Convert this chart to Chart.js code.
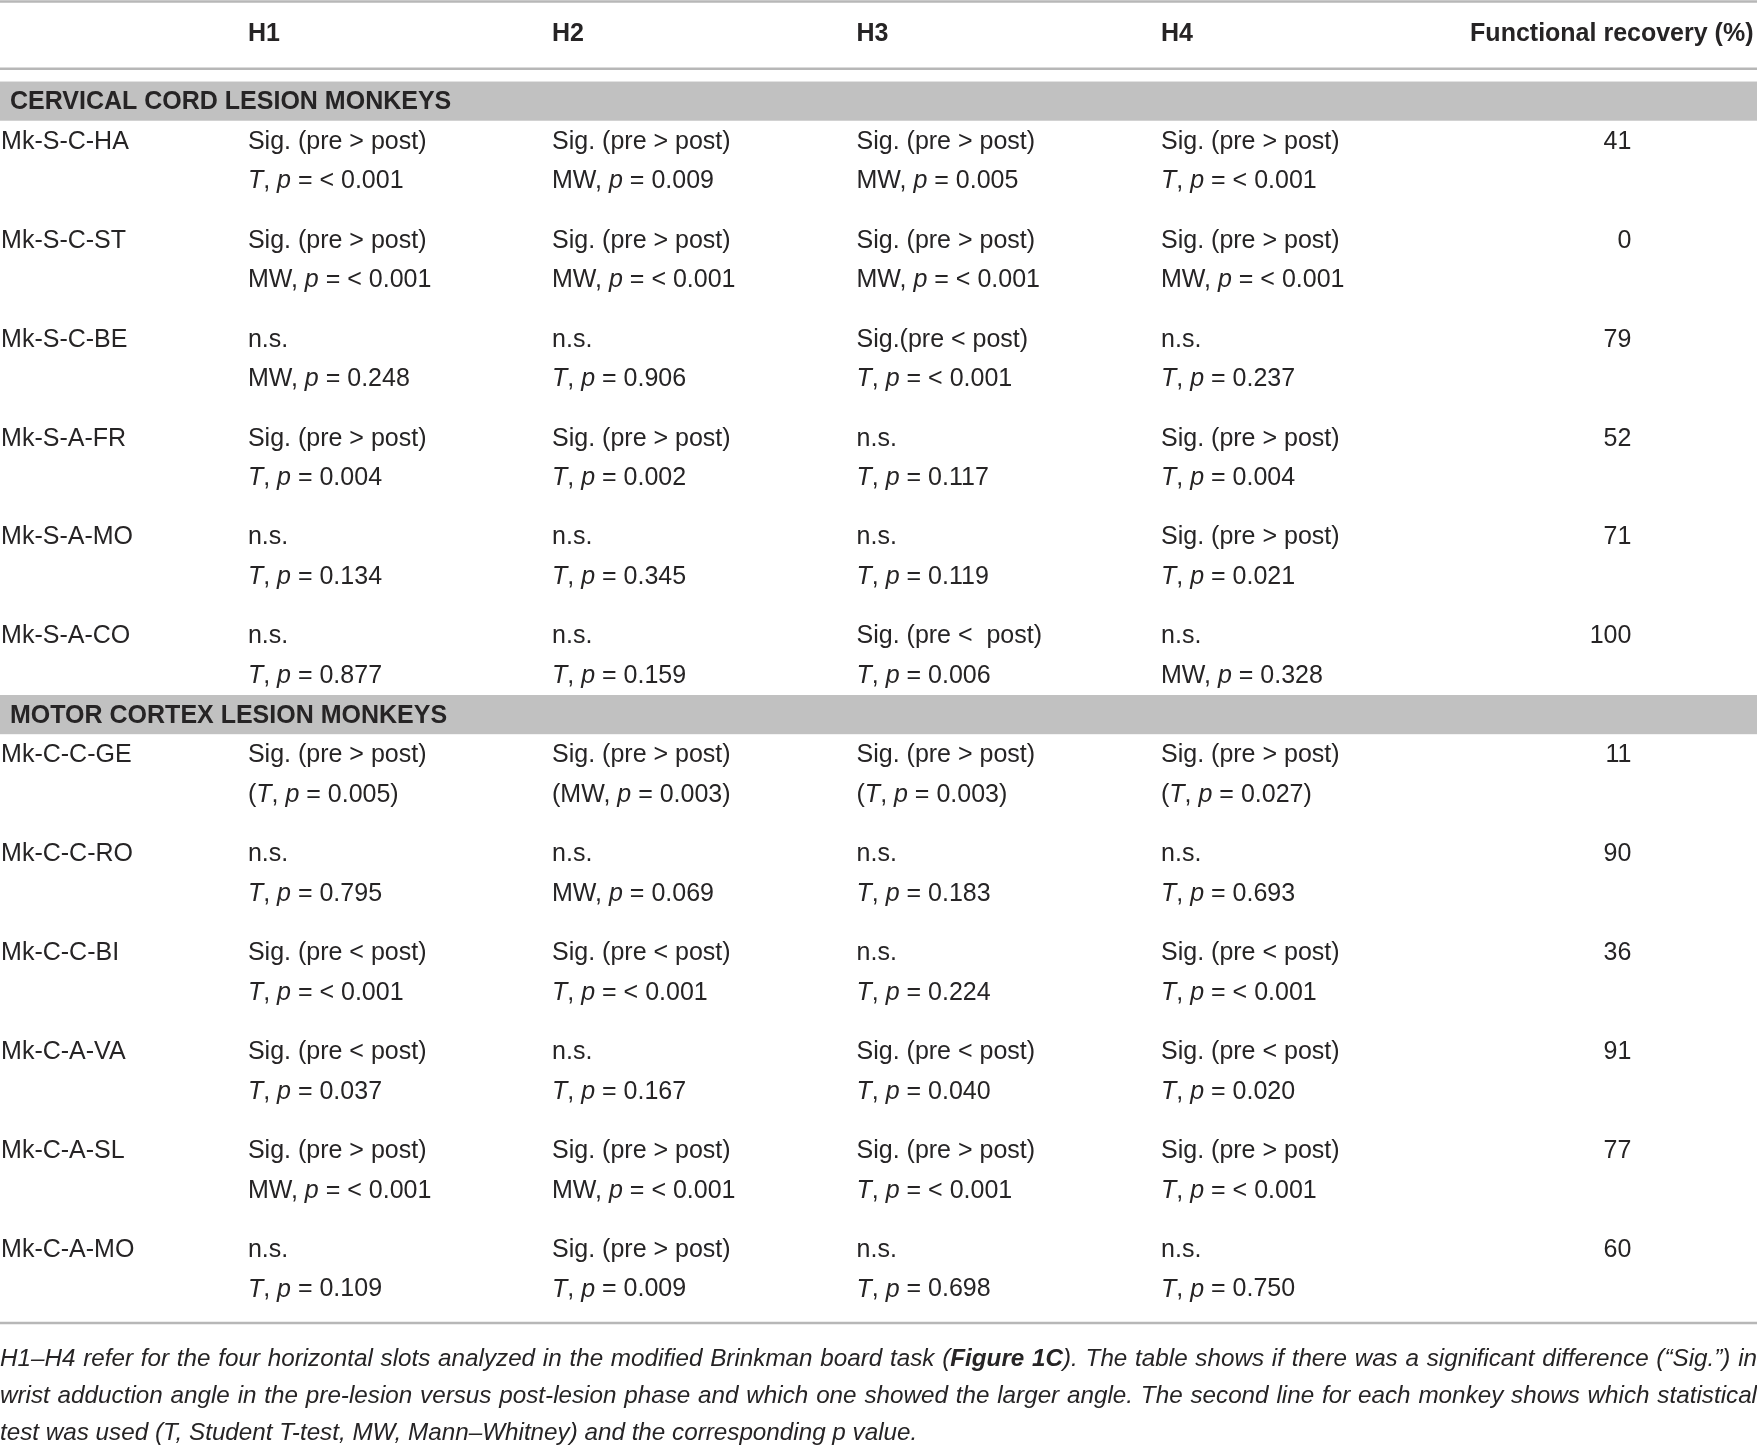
<!DOCTYPE html>
<html>
<head>
<meta charset="utf-8">
<script src="https://cdn.jsdelivr.net/npm/chart.js@4.4.0/dist/chart.umd.min.js"></script>
<style>
  html, body { margin: 0; padding: 0; background: #fff; }
  #wrap { width: 1757px; height: 1447px; }
</style>
</head>
<body>
<div id="wrap"><canvas id="canvas" width="1757" height="1447"></canvas></div>
<script>
// ---- table content ----
const columns = ['H1', 'H2', 'H3', 'H4', 'Functional recovery (%)'];
const groups = ['CERVICAL CORD LESION MONKEYS', 'MOTOR CORTEX LESION MONKEYS'];

const cervicalMonkeys = ['Mk-S-C-HA', 'Mk-S-C-ST', 'Mk-S-C-BE', 'Mk-S-A-FR', 'Mk-S-A-MO', 'Mk-S-A-CO'];
const cervicalSig = [
  ['Sig. (pre > post)', 'Sig. (pre > post)', 'Sig. (pre > post)', 'Sig. (pre > post)'],
  ['Sig. (pre > post)', 'Sig. (pre > post)', 'Sig. (pre > post)', 'Sig. (pre > post)'],
  ['n.s.', 'n.s.', 'Sig.(pre < post)', 'n.s.'],
  ['Sig. (pre > post)', 'Sig. (pre > post)', 'n.s.', 'Sig. (pre > post)'],
  ['n.s.', 'n.s.', 'n.s.', 'Sig. (pre > post)'],
  ['n.s.', 'n.s.', 'Sig. (pre <  post)', 'n.s.']
];
const cervicalTest = [
  ['T, p = < 0.001', 'MW, p = 0.009', 'MW, p = 0.005', 'T, p = < 0.001'],
  ['MW, p = < 0.001', 'MW, p = < 0.001', 'MW, p = < 0.001', 'MW, p = < 0.001'],
  ['MW, p = 0.248', 'T, p = 0.906', 'T, p = < 0.001', 'T, p = 0.237'],
  ['T, p = 0.004', 'T, p = 0.002', 'T, p = 0.117', 'T, p = 0.004'],
  ['T, p = 0.134', 'T, p = 0.345', 'T, p = 0.119', 'T, p = 0.021'],
  ['T, p = 0.877', 'T, p = 0.159', 'T, p = 0.006', 'MW, p = 0.328']
];
const cervicalRecovery = [41, 0, 79, 52, 71, 100];

const motorMonkeys = ['Mk-C-C-GE', 'Mk-C-C-RO', 'Mk-C-C-BI', 'Mk-C-A-VA', 'Mk-C-A-SL', 'Mk-C-A-MO'];
const motorSig = [
  ['Sig. (pre > post)', 'Sig. (pre > post)', 'Sig. (pre > post)', 'Sig. (pre > post)'],
  ['n.s.', 'n.s.', 'n.s.', 'n.s.'],
  ['Sig. (pre < post)', 'Sig. (pre < post)', 'n.s.', 'Sig. (pre < post)'],
  ['Sig. (pre < post)', 'n.s.', 'Sig. (pre < post)', 'Sig. (pre < post)'],
  ['Sig. (pre > post)', 'Sig. (pre > post)', 'Sig. (pre > post)', 'Sig. (pre > post)'],
  ['n.s.', 'Sig. (pre > post)', 'n.s.', 'n.s.']
];
const motorTest = [
  ['(T, p = 0.005)', '(MW, p = 0.003)', '(T, p = 0.003)', '(T, p = 0.027)'],
  ['T, p = 0.795', 'MW, p = 0.069', 'T, p = 0.183', 'T, p = 0.693'],
  ['T, p = < 0.001', 'T, p = < 0.001', 'T, p = 0.224', 'T, p = < 0.001'],
  ['T, p = 0.037', 'T, p = 0.167', 'T, p = 0.040', 'T, p = 0.020'],
  ['MW, p = < 0.001', 'MW, p = < 0.001', 'T, p = < 0.001', 'T, p = < 0.001'],
  ['T, p = 0.109', 'T, p = 0.009', 'T, p = 0.698', 'T, p = 0.750']
];
const motorRecovery = [11, 90, 36, 91, 77, 60];

const footnote = [
  'H1–H4 refer for the four horizontal slots analyzed in the modified Brinkman board task (**Figure 1C**). The table shows if there was a significant difference (“Sig.”) in',
  'wrist adduction angle in the pre-lesion versus post-lesion phase and which one showed the larger angle. The second line for each monkey shows which statistical',
  'test was used (T, Student T-test, MW, Mann–Whitney) and the corresponding p value.'
];

// ---- layout (x in % of width, y in text-line slots) ----
const FAMILY = "'Liberation Sans', Arial, sans-serif";
const INK = '#262425';
const colX = [0.06, 14.11, 31.42, 48.75, 66.08];
const recoveryX = 92.85;
const headerRightX = 99.8;
const groupX = 0.57;
const headerSlot = -1.73;
const groupSlots = [0, 15.5];
const ruleSlots = [-2.48, -0.78, 30.91];
const footSlots = [31.75, 32.7, 33.62];
const footLastLineFrac = 0.523; // last footnote line ends about half way across
const rowSlot = (g, k, line) => groupSlots[g] + 1 + 2.5 * k + line;
const TEXT_NUDGE = 2.5; // px, optical centring of the middle baseline

// ---- build the datasets from the arrays ----
const groupSets = [
  { names: cervicalMonkeys, sig: cervicalSig, test: cervicalTest, rec: cervicalRecovery },
  { names: motorMonkeys, sig: motorSig, test: motorTest, rec: motorRecovery }
];

function cellSet(label, style) {
  return { label, data: [], texts: [], style, pointRadius: 0, showLine: false };
}
const header = cellSet('header', { font: 'bold 25px', align: 'left' });
const headerRight = cellSet('headerRight', { font: 'bold 25px', align: 'right' });
const groupLabels = cellSet('groups', { font: 'bold 25px', align: 'left' });
const monkeys = cellSet('monkeys', { font: '25px', align: 'left' });
const sigCells = cellSet('sig', { font: '25px', align: 'left' });
const testCells = cellSet('test', { font: '25px', align: 'left', rich: true });
const recCells = cellSet('recovery', { font: '25px', align: 'right' });
const foot = cellSet('footnote', { footnote: true, align: 'left' });

columns.forEach((c, i) => {
  if (i < 4) { header.data.push({ x: colX[i + 1], y: headerSlot }); header.texts.push(c); }
  else { headerRight.data.push({ x: headerRightX, y: headerSlot }); headerRight.texts.push(c); }
});
groups.forEach((g, gi) => {
  groupLabels.data.push({ x: groupX, y: groupSlots[gi] });
  groupLabels.texts.push(g);
  const s = groupSets[gi];
  s.names.forEach((name, k) => {
    monkeys.data.push({ x: colX[0], y: rowSlot(gi, k, 0) });
    monkeys.texts.push(name);
    for (let h = 0; h < 4; h++) {
      sigCells.data.push({ x: colX[h + 1], y: rowSlot(gi, k, 0) });
      sigCells.texts.push(s.sig[k][h]);
      testCells.data.push({ x: colX[h + 1], y: rowSlot(gi, k, 1) });
      testCells.texts.push(s.test[k][h]);
    }
    recCells.data.push({ x: recoveryX, y: rowSlot(gi, k, 0) });
    recCells.texts.push(String(s.rec[k]));
  });
});
footnote.forEach((line, i) => {
  foot.data.push({ x: 0, y: footSlots[i] });
  foot.texts.push(line);
});

// ---- drawing helpers ----
function drawRich(ctx, text, x, y, size) {
  // T and p are set in italics, the rest upright
  const parts = text.split(/(\bT\b|\bp\b)/).filter(s => s !== '');
  parts.forEach(p => {
    const it = (p === 'T' || p === 'p');
    ctx.font = (it ? 'italic ' : '') + size + 'px ' + FAMILY;
    ctx.fillText(p, x, y);
    x += ctx.measureText(p).width;
  });
}

function footPieces(line, size) {
  const runs = line.split('**').map((t, i) => ({ t, bold: i % 2 === 1 }));
  const pieces = [];
  let space = false;
  runs.forEach(r => {
    const font = (r.bold ? 'italic bold ' : 'italic ') + size + 'px ' + FAMILY;
    r.t.split(/( )/).forEach(tok => {
      if (tok === ' ') { space = true; return; }
      if (!tok) return;
      pieces.push({ text: tok, font, space: space && pieces.length > 0 });
      space = false;
    });
  });
  return pieces;
}

function footWidth(ctx, line, size) {
  const pieces = footPieces(line, size);
  ctx.font = 'italic ' + size + 'px ' + FAMILY;
  const spaceW = ctx.measureText(' ').width;
  let w = 0;
  pieces.forEach(p => { ctx.font = p.font; w += ctx.measureText(p.text).width + (p.space ? spaceW : 0); });
  return w;
}

// draws one footnote line, horizontally condensed by sx, justified to x1 if asked
function drawFootLine(ctx, line, x0, x1, y, size, sx, justify) {
  const pieces = footPieces(line, size);
  let sum = 0, gaps = 0;
  pieces.forEach(p => { ctx.font = p.font; p.w = ctx.measureText(p.text).width; sum += p.w; if (p.space) gaps++; });
  ctx.font = 'italic ' + size + 'px ' + FAMILY;
  const spaceW = ctx.measureText(' ').width;
  const span = (x1 - x0) / sx;
  const gap = justify && gaps ? (span - sum) / gaps : spaceW;
  ctx.save();
  ctx.translate(x0, y);
  ctx.scale(sx, 1);
  let x = 0;
  pieces.forEach(p => {
    if (p.space) x += gap;
    ctx.font = p.font;
    ctx.fillText(p.text, x, 0);
    x += p.w;
  });
  ctx.restore();
}

const tablePlugin = {
  id: 'tableCells',
  beforeDatasetsDraw(chart) {
    const { ctx, scales: { x, y } } = chart;
    ctx.save();
    ctx.fillStyle = '#c1c1c1';
    groupSlots.forEach(s => {
      const top = y.getPixelForValue(s - 0.46);
      const bot = y.getPixelForValue(s + 0.53);
      ctx.fillRect(x.left, top, x.right - x.left, bot - top);
    });
    ctx.strokeStyle = '#b7b7b7';
    ctx.lineWidth = 2.5;
    ruleSlots.forEach(s => {
      const py = y.getPixelForValue(s);
      ctx.beginPath();
      ctx.moveTo(x.left, py);
      ctx.lineTo(x.right, py);
      ctx.stroke();
    });
    ctx.restore();
  },
  afterDatasetsDraw(chart) {
    const { ctx, scales: { x } } = chart;
    ctx.save();
    ctx.fillStyle = INK;
    ctx.textBaseline = 'middle';
    const pageW = x.right - x.left;
    // footnote: size so the short last line reaches its spot, condensed if line 1 would overflow
    const base = 23;
    const footSize = base * pageW * footLastLineFrac / footWidth(ctx, footnote[footnote.length - 1], base);
    const sx = Math.min(1, pageW * 0.985 / footWidth(ctx, footnote[0], footSize));

    chart.data.datasets.forEach((ds, i) => {
      const meta = chart.getDatasetMeta(i);
      const st = ds.style;
      meta.data.forEach((pt, j) => {
        const text = ds.texts[j];
        const py = pt.y + TEXT_NUDGE;
        ctx.textAlign = st.rich || st.footnote ? 'left' : st.align;
        if (st.footnote) {
          drawFootLine(ctx, text, pt.x, x.right, py, footSize, sx, j < ds.texts.length - 1);
        } else if (st.rich) {
          drawRich(ctx, text, pt.x, py, 25);
        } else {
          ctx.font = st.font + ' ' + FAMILY;
          ctx.fillText(text, pt.x, py);
        }
      });
    });
    ctx.restore();
  }
};

const config = {
  type: 'scatter',
  data: {
    datasets: [header, headerRight, groupLabels, monkeys, sigCells, testCells, recCells, foot]
  },
  options: {
    responsive: false,
    devicePixelRatio: 1,
    animation: false,
    layout: { padding: 0 },
    plugins: { legend: { display: false }, tooltip: { enabled: false } },
    scales: {
      x: { type: 'linear', min: 0, max: 100, display: false },
      y: { type: 'linear', min: -2.52, max: 34.04, reverse: true, display: false }
    }
  },
  plugins: [tablePlugin]
};

const canvas = document.getElementById('canvas');
const chart = new Chart(canvas, config);
</script>
</body>
</html>
